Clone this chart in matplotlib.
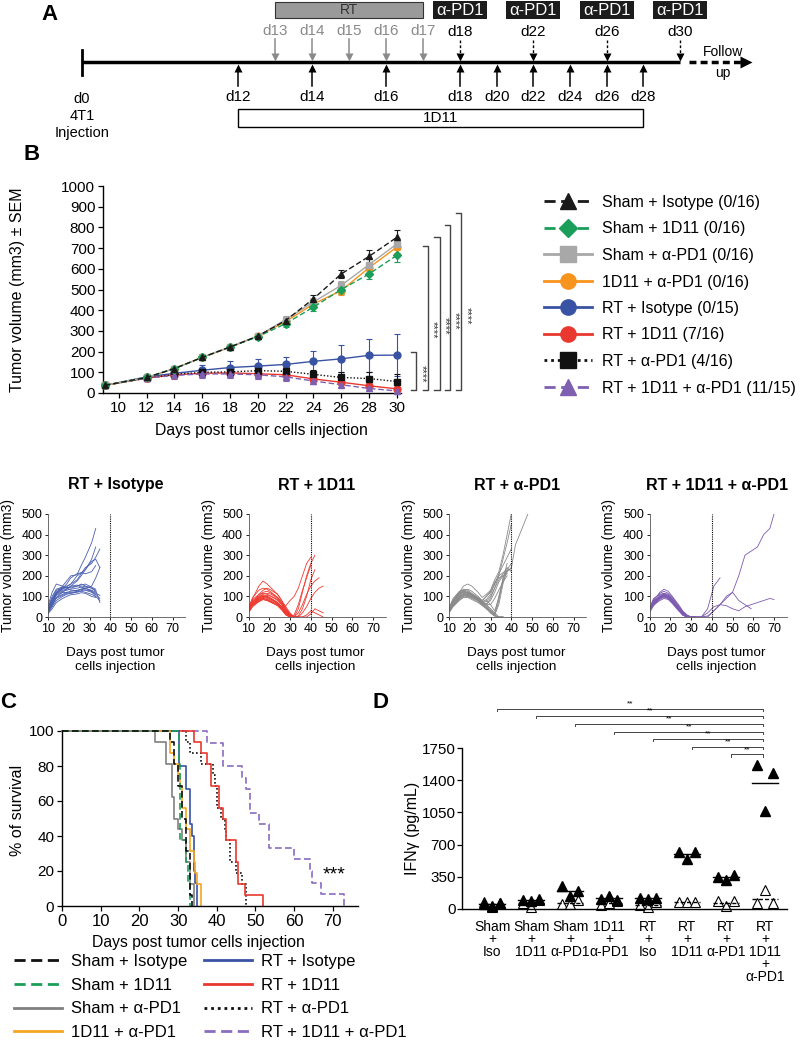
import numpy as np
import matplotlib.pyplot as plt
from matplotlib.lines import Line2D
from matplotlib.patches import Rectangle

plt.rcParams['font.family'] = ['Liberation Sans', 'DejaVu Sans']
plt.rcParams['axes.linewidth'] = 1.0
plt.rcParams['xtick.major.width'] = 0.9
plt.rcParams['ytick.major.width'] = 0.9

W, H = 800, 1048


def rect(l, t, r, b):
    return [l / W, 1 - b / H, (r - l) / W, (b - t) / H]


def fxy(x, y):
    return x / W, 1 - y / H


# ---------------- data ----------------
# A: treatment schedule (days)
rt_days = [13, 14, 15, 16, 17]
pd1_days = [18, 22, 26, 30]
tgf_days = [12, 14, 16, 18, 20, 22, 24, 26, 28]

# B: mean tumour volume +- SEM
b_days = [9, 12, 14, 16, 18, 20, 22, 24, 26, 28, 30]
b_labels = ['Sham + Isotype (0/16)', 'Sham + 1D11 (0/16)', 'Sham + α-PD1 (0/16)',
            '1D11 + α-PD1 (0/16)', 'RT + Isotype (0/15)', 'RT + 1D11 (7/16)',
            'RT + α-PD1 (4/16)', 'RT + 1D11 + α-PD1 (11/15)']
vol_sham_iso = [37, 75, 118, 172, 222, 275, 350, 455, 575, 660, 752]
vol_sham_1d11 = [37, 75, 118, 172, 222, 272, 335, 415, 500, 575, 665]
vol_sham_pd1 = [37, 75, 118, 172, 222, 275, 355, 440, 520, 620, 720]
vol_1d11_pd1 = [37, 75, 118, 172, 222, 275, 345, 430, 495, 605, 705]
vol_rt_iso = [37, 78, 95, 110, 123, 130, 138, 153, 165, 182, 183]
vol_rt_1d11 = [37, 72, 88, 95, 97, 93, 88, 68, 52, 35, 20]
vol_rt_pd1 = [37, 72, 90, 100, 102, 108, 105, 90, 75, 70, 55]
vol_rt_1d11_pd1 = [37, 72, 85, 92, 92, 88, 78, 58, 40, 22, 10]
sem_sham_iso = [3, 8, 8, 8, 10, 12, 15, 20, 20, 30, 35]
sem_sham_1d11 = [3, 8, 8, 8, 10, 12, 15, 18, 20, 25, 30]
sem_sham_pd1 = [3, 8, 8, 8, 10, 12, 18, 20, 20, 25, 30]
sem_1d11_pd1 = [3, 8, 8, 8, 10, 12, 15, 18, 20, 25, 30]
sem_rt_iso = [3, 15, 15, 25, 30, 35, 35, 50, 65, 80, 100]
sem_rt_1d11 = [3, 10, 15, 20, 20, 20, 20, 15, 15, 12, 10]
sem_rt_pd1 = [3, 10, 15, 20, 20, 20, 20, 20, 25, 30, 35]
sem_rt_1d11_pd1 = [3, 10, 15, 20, 20, 20, 20, 15, 12, 10, 8]
b_sig_tops = [198, 710, 754, 812, 870]

# B lower row: individual mice
iso_days = [10, 12, 14, 17, 19, 21, 24, 26, 28, 31, 33, 35]
iso_vols = [
    [30, 70, 120, 150, 175, 200, 205, 250, 290, 360, 430],
    [25, 65, 110, 140, 160, 190, 210, 215, 230, 280, 340],
    [35, 80, 120, 140, 150, 160, 180, 210, 240, 260, 290, 330],
    [20, 55, 95, 120, 135, 150, 175, 200, 230, 270, 280, 240],
    [40, 90, 130, 140, 145, 140, 150, 160, 150, 140, 130, 70],
    [30, 75, 110, 125, 130, 135, 140, 145, 150, 140, 125],
    [25, 60, 95, 110, 120, 125, 130, 135, 130, 120, 110, 90],
    [45, 100, 135, 145, 140, 145, 150, 155, 160, 145, 135],
    [20, 50, 80, 100, 110, 115, 120, 125, 120, 110, 100],
    [30, 70, 105, 120, 118, 115, 125, 135, 140, 150, 190, 240],
    [55, 120, 160, 150, 140, 130, 128, 135, 140, 130, 120],
    [15, 40, 70, 90, 100, 108, 112, 118, 115, 100, 95],
    [35, 85, 120, 135, 145, 160, 200, 215, 210, 220, 250],
    [25, 60, 90, 105, 115, 120, 122, 128, 132, 125, 115, 105],
    [40, 80, 115, 130, 135, 150, 155, 145, 140, 125, 100, 80],
]
tgf_mice_days = [10, 12, 15, 17, 19, 21, 24, 26, 28, 30, 32, 34, 36, 38, 40, 42, 44, 46]
tgf_mice_vols = [
    [40, 90, 150, 175, 160, 140, 110, 80, 40, 10, 0, 0],
    [30, 70, 110, 130, 140, 130, 110, 80, 50, 20, 0, 0],
    [50, 80, 100, 120, 125, 115, 95, 70, 40, 15, 0, 0],
    [20, 60, 90, 100, 105, 100, 80, 60, 30, 10, 0, 0],
    [35, 70, 95, 110, 115, 110, 90, 65, 35, 5, 0, 0],
    [25, 55, 80, 95, 100, 90, 70, 50, 25, 0, 0, 0],
    [45, 85, 110, 115, 110, 100, 85, 60, 30, 10, 0, 0],
    [30, 65, 90, 100, 95, 85, 70, 45, 20, 5, 0, 40, 120, 200, 260, 300],
    [25, 60, 85, 95, 90, 80, 65, 40, 15, 0, 10, 60, 130, 190, 250],
    [40, 75, 100, 105, 100, 90, 70, 50, 25, 5, 0, 20, 60, 110, 150, 175, 190],
    [35, 70, 95, 100, 95, 85, 65, 40, 15, 0, 0, 0, 20, 50, 90, 120, 140, 150],
    [30, 60, 80, 90, 85, 75, 60, 50, 55, 80, 100, 140, 200, 260, 290],
    [20, 50, 75, 85, 80, 70, 55, 35, 10, 0, 0, 0, 0, 10, 30, 20, 10, 0],
    [45, 95, 130, 140, 135, 120, 95, 70, 40, 15, 0, 5, 40, 100, 180, 230],
    [30, 65, 85, 90, 85, 75, 55, 35, 10, 0, 0, 0],
    [25, 55, 75, 85, 80, 70, 60, 45, 20, 0, 0, 0, 0, 0, 15, 40, 30, 20],
]
pd1_mice_days = [10, 12, 15, 17, 19, 21, 24, 26, 28, 30, 32, 34, 36, 38, 40, 42, 44, 46, 48]
pd1_mice_vols = [
    [30, 75, 120, 150, 160, 150, 120, 95, 110, 130, 180, 220, 300, 400, 500],
    [35, 80, 115, 130, 135, 125, 100, 80, 100, 120, 160, 200, 215, 225, 235, 350, 400, 450, 500],
    [25, 60, 95, 110, 115, 105, 85, 70, 80, 60, 30, 90, 180, 260],
    [40, 85, 120, 135, 130, 115, 95, 75, 60, 90, 140, 180, 210, 240, 220],
    [20, 55, 90, 105, 110, 100, 85, 65, 50, 30, 10, 60, 160, 230],
    [30, 70, 105, 120, 120, 110, 90, 70, 55, 40, 20, 0, 0],
    [25, 60, 90, 100, 105, 95, 80, 60, 40, 20, 5, 0, 0],
    [35, 75, 110, 120, 115, 105, 90, 75, 85, 110, 160, 210, 250, 290, 330],
    [30, 65, 100, 110, 105, 95, 80, 60, 45, 30, 10, 0, 0],
    [45, 90, 125, 130, 125, 110, 90, 70, 65, 80, 120, 170, 200, 220, 240],
    [25, 55, 85, 95, 95, 85, 70, 55, 40, 25, 5, 0, 0],
    [30, 70, 100, 115, 110, 100, 85, 65, 60, 40, 15, 100, 180, 215],
    [35, 80, 110, 125, 120, 110, 95, 80, 100, 125, 170, 190, 200, 210],
    [20, 50, 80, 95, 100, 95, 85, 70, 60, 60, 90, 130, 170, 200],
    [40, 80, 115, 125, 120, 105, 85, 70, 75, 100, 140, 200, 280, 360, 450],
    [30, 65, 95, 105, 100, 90, 75, 60, 50, 20, 5, 80, 190, 230, 260],
]
triple_mice_days = [10, 12, 15, 17, 19, 21, 24, 26, 28, 30, 32, 35, 38, 41, 44, 47,
                    50, 53, 56, 59, 62, 65, 68, 70]
triple_mice_vols = [
    [30, 80, 120, 135, 125, 100, 60, 30, 10, 0, 0],
    [40, 85, 115, 125, 115, 95, 55, 25, 5, 0, 0],
    [25, 70, 105, 115, 110, 90, 50, 20, 5, 0, 0],
    [35, 75, 100, 110, 105, 85, 45, 20, 0, 0, 0],
    [20, 60, 95, 105, 100, 80, 40, 15, 0, 0, 0],
    [45, 90, 110, 115, 105, 85, 50, 25, 10, 0, 0],
    [30, 65, 90, 100, 95, 75, 40, 15, 0, 0, 0],
    [25, 55, 85, 95, 90, 70, 35, 10, 0, 0, 0],
    [40, 80, 100, 105, 95, 80, 45, 20, 5, 0, 0],
    [35, 70, 95, 100, 90, 70, 35, 10, 0, 0, 0],
    [30, 60, 80, 90, 85, 65, 30, 10, 0, 0, 0],
    [35, 75, 100, 110, 100, 80, 45, 20, 5, 0, 0, 0, 5, 30, 60, 90, 120, 200, 300, 320,
     340, 400, 430, 500],
    [30, 65, 95, 105, 95, 75, 40, 15, 0, 0, 0, 0, 40, 150, 190],
    [25, 60, 90, 100, 90, 70, 35, 10, 0, 0, 0, 0, 0, 30, 60, 100, 120, 80, 60, 40],
    [30, 70, 95, 105, 95, 75, 40, 15, 0, 0, 0, 0, 20, 50, 60, 55, 40, 30, 50, 60, 70,
     80, 90, 85],
]

# C: days of death per group
km_sham_iso = [28, 29, 29, 30, 30, 31, 31, 31, 32, 32, 32, 33, 33, 33, 33, 33.5]
km_sham_1d11 = [30.3, 30.3, 30.3, 30.5, 30.5, 30.5, 30.5, 30.5, 30.5, 30.5, 32, 32,
                32.5, 32.5, 33, 33]
km_sham_pd1 = [24, 27, 27, 28.5, 28.5, 28.5, 29, 29, 30, 31, 32, 32, 33, 33, 34, 34]
km_1d11_pd1 = [28, 28, 29, 30, 30.5, 31, 31, 32, 32, 33, 33, 34, 34.5, 35, 36, 36]
km_rt_iso = [30.3, 30.3, 30.3, 32, 32, 33, 33, 33, 33.5, 34, 34, 34, 34.5, 35, 35]
km_rt_1d11 = [34, 36, 37.5, 38.5, 38.5, 40.5, 40.5, 41.5, 42.5, 42.5, 45, 45, 45.5,
              45.5, 47.3, 52]
km_rt_pd1 = [32, 33, 36, 39, 39.5, 40, 40, 41, 42, 42.5, 43.5, 43.5, 45, 46.5, 47.5, 47.5]
km_rt_1d11_pd1 = [37.5, 41.5, 41.5, 46.5, 47.5, 48.5, 48.5, 51, 53.5, 53.5, 60, 64,
                  64.5, 67, 73]
c_labels = ['Sham + Isotype', 'Sham + 1D11', 'Sham + α-PD1', '1D11 + α-PD1',
            'RT + Isotype', 'RT + 1D11', 'RT + α-PD1', 'RT + 1D11 + α-PD1']

# D: IFNg (pg/mL)
d_groups = ['Sham\n+\nIso', 'Sham\n+\n1D11', 'Sham\n+\nα-PD1', '1D11\n+\nα-PD1',
            'RT\n+\nIso', 'RT\n+\n1D11', 'RT\n+\nα-PD1', 'RT\n+\n1D11\n+\nα-PD1']
ifn_filled = [[55, 35, 70], [100, 85, 110], [245, 145, 195], [105, 145, 100],
              [120, 110, 125], [620, 540, 620], [350, 315, 370], [1560, 1060, 1480]]
ifn_open = [[80, 20, 60], [70, 20, 95], [50, 50, 100], [40, 70, 90],
            [40, 20, 80], [80, 75, 80], [85, 35, 85], [60, 210, 60]]
d_sig_levels = [2178, 2102, 2015, 1929, 1853, 1766, 1680]

# styles
col = ['#1a1a1a', '#1b9e5a', '#a8a8a8', '#f7941d', '#3953a4', '#e8382f', '#111111', '#7f5fb0']
dash = (0, (4, 2))
dot = (0, (1, 1.4))
lstyle = [dash, dash, '-', '-', '-', '-', dot, dash]
mark = ['^', 'D', 's', 'o', 'o', 'o', 's', '^']

fig = plt.figure(figsize=(8, 10.48), dpi=100)

# ---------------- A ----------------
ax_a = fig.add_axes(rect(0, 0, 800, 140))
ax_a.set_xlim(0, 800)
ax_a.set_ylim(140, 0)
ax_a.axis('off')


def dx(d):
    return np.interp(d, [0, 12, 18, 30], [82, 238, 460, 680])


ax_a.plot([82, dx(30)], [62, 62], color='k', lw=2.5, solid_capstyle='butt')
ax_a.plot([82, 82], [50, 75], color='k', lw=2)
ax_a.add_patch(Rectangle((dx(13), 2), dx(17) - dx(13), 16, fc='#9a9a9a', ec='#333333', lw=0.8))
ax_a.text((dx(13) + dx(17)) / 2, 10.5, 'RT', ha='center', va='center', fontsize=10, color='#333333')
for d in rt_days:
    ax_a.text(dx(d), 31, f'd{d}', ha='center', va='center', fontsize=11, color='#8a8a8a')
    ax_a.plot([dx(d), dx(d)], [39, 56], color='#8a8a8a', lw=1.1)
    ax_a.plot(dx(d), 56.5, marker='v', ms=6, color='#8a8a8a', mec='none')
for d in pd1_days:
    ax_a.add_patch(Rectangle((dx(d) - 27, 1), 54, 18, fc='#1c1c1c', ec='none'))
    ax_a.text(dx(d), 10.5, 'α-PD1', ha='center', va='center', fontsize=12, color='white')
    ax_a.text(dx(d), 32, f'd{d}', ha='center', va='center', fontsize=11, color='k')
    ax_a.plot([dx(d), dx(d)], [40, 56], color='k', lw=1, ls=(0, (2, 1.5)))
    ax_a.plot(dx(d), 57, marker='v', ms=6, color='k', mec='none')
for d in tgf_days:
    ax_a.plot([dx(d), dx(d)], [86, 68], color='k', lw=1.1)
    ax_a.plot(dx(d), 67.5, marker='^', ms=6, color='k', mec='none')
    ax_a.text(dx(d), 97, f'd{d}', ha='center', va='center', fontsize=11)
ax_a.text(82, 116, 'd0\n4T1\nInjection', ha='center', va='center', fontsize=10.5, linespacing=1.3)
ax_a.add_patch(Rectangle((dx(12), 109), dx(28) - dx(12), 18, fc='white', ec='k', lw=1))
ax_a.text((dx(12) + dx(28)) / 2, 118, '1D11', ha='center', va='center', fontsize=11)
ax_a.plot([689, 742], [62, 62], color='k', lw=2.5, ls=(0, (2, 1.2)))
ax_a.plot(746, 62, marker='>', ms=9, color='k', mec='none')
ax_a.text(723, 52, 'Follow', ha='center', va='center', fontsize=10)
ax_a.text(723, 73, 'up', ha='center', va='center', fontsize=10)

# ---------------- B ----------------
ax_b = fig.add_axes(rect(103, 186, 401, 393))
b_means = [vol_sham_iso, vol_sham_1d11, vol_sham_pd1, vol_1d11_pd1,
           vol_rt_iso, vol_rt_1d11, vol_rt_pd1, vol_rt_1d11_pd1]
b_sems = [sem_sham_iso, sem_sham_1d11, sem_sham_pd1, sem_1d11_pd1,
          sem_rt_iso, sem_rt_1d11, sem_rt_pd1, sem_rt_1d11_pd1]
order = [4, 5, 6, 7, 3, 2, 1, 0]
for i in order:
    ax_b.errorbar(b_days, b_means[i], yerr=b_sems[i], color=col[i], ls=lstyle[i],
                  marker=mark[i], ms=5 if mark[i] != 'D' else 4, lw=1, elinewidth=0.8,
                  capsize=2.5, capthick=0.8, clip_on=False, zorder=3)
ax_b.set_xlim(8.86, 30.3)
ax_b.set_ylim(0, 1000)
ax_b.set_xticks(range(10, 31, 2))
ax_b.set_yticks(range(0, 1001, 100))
ax_b.tick_params(labelsize=11, length=3.5, pad=2)
for s in ['top', 'right']:
    ax_b.spines[s].set_visible(False)

# significance brackets
b_sig_x = [31.36, 32.21, 33.07, 33.79, 34.64]
for xb, top in zip(b_sig_x, b_sig_tops):
    ax_b.plot([xb - 0.36, xb, xb, xb - 0.36], [15, 15, top, top], color='#444444', lw=1,
              clip_on=False)
    ax_b.text(xb + 0.4, (top + 15) / 2 - 0.08 * top, '****', rotation=270, ha='center',
              va='center', fontsize=8, color='#333333', clip_on=False)

fig.text(*fxy(18, 290), 'Tumor volume (mm3) ± SEM', rotation=90, ha='center', va='center',
         fontsize=11.5)
fig.text(*fxy(261, 431), 'Days post tumor cells injection', ha='center', va='center',
         fontsize=11.3)

b_handles = [Line2D([], [], color=col[i], ls=lstyle[i], marker=mark[i], lw=2,
                    ms=11 if mark[i] != 'D' else 9) for i in range(8)]
fig.legend(b_handles, b_labels, loc='upper left', bbox_to_anchor=fxy(544, 195), frameon=False,
           fontsize=11.5, handlelength=3.0, handletextpad=0.6, labelspacing=0.72,
           borderaxespad=0, borderpad=0)

# ---------------- B lower row ----------------
small = [('RT + Isotype', iso_days, iso_vols, '#4a5fb0'),
         ('RT + 1D11', tgf_mice_days, tgf_mice_vols, '#ee3a30'),
         ('RT + α-PD1', pd1_mice_days, pd1_mice_vols, '#8a8a8a'),
         ('RT + 1D11 + α-PD1', triple_mice_days, triple_mice_vols, '#7d5bb0')]
for k, (title, days, vols, c) in enumerate(small):
    left = 48 + 200.5 * k
    ax = fig.add_axes(rect(left, 514, left + 137, 617))
    for v in vols:
        ax.plot(days[:len(v)], v, color=c, lw=0.6)
    ax.axvline(40, color='k', lw=0.8, ls=(0, (1, 1)))
    ax.set_xlim(10, 76)
    ax.set_ylim(0, 500)
    ax.set_xticks(range(10, 71, 10))
    ax.set_yticks(range(0, 501, 100))
    ax.tick_params(labelsize=9, length=2.5, pad=1.5, width=0.6)
    for s in ['top', 'right']:
        ax.spines[s].set_visible(False)
    for s in ['left', 'bottom']:
        ax.spines[s].set_linewidth(0.6)
        ax.spines[s].set_color('#555555')
    fig.text(*fxy(left + 68, 485), title, ha='center', va='center', fontsize=11.5,
             fontweight='bold')
    fig.text(*fxy(left - 40, 565), 'Tumor volume (mm3)', rotation=90, ha='center',
             va='center', fontsize=10)
    fig.text(*fxy(left + 67, 660), 'Days post tumor\ncells injection', ha='center',
             va='center', fontsize=9.7, linespacing=1.2)

# ---------------- C ----------------
ax_c = fig.add_axes(rect(62, 731, 358, 906))
km_all = [km_sham_iso, km_sham_1d11, km_sham_pd1, km_1d11_pd1,
          km_rt_iso, km_rt_1d11, km_rt_pd1, km_rt_1d11_pd1]
c_col = ['#111111', '#1b9e5a', '#808080', '#f5a623', '#3953a4', '#e8382f', '#111111', '#8a6cc0']
for i in [7, 6, 5, 4, 3, 2, 1, 0]:
    t = np.sort(km_all[i])
    n = len(t)
    xs = np.concatenate([[0], t])
    ys = 100 * np.concatenate([[n], n - np.arange(1, n + 1)]) / n
    ax_c.step(xs, ys, where='post', color=c_col[i], ls=lstyle[i], lw=1.2, clip_on=False)
ax_c.set_xlim(0, 76.5)
ax_c.set_ylim(0, 100)
ax_c.set_xticks(range(0, 71, 10))
ax_c.set_yticks(range(0, 101, 20))
ax_c.tick_params(axis='y', labelsize=11, length=3.5, pad=2)
ax_c.tick_params(axis='x', labelsize=12, length=3.5, pad=2)
for s in ['top', 'right']:
    ax_c.spines[s].set_visible(False)
ax_c.text(70.3, 17.7, '***', ha='center', va='center', fontsize=14)
fig.text(*fxy(18, 810), '% of survival', rotation=90, ha='center', va='center', fontsize=11.5)
fig.text(*fxy(198, 943), 'Days post tumor cells injection', ha='center', va='center',
         fontsize=11.3)
c_handles = [Line2D([], [], color=c_col[i], ls=lstyle[i], lw=2) for i in range(8)]
leg1 = fig.legend(c_handles[:4], c_labels[:4], loc='upper left', bbox_to_anchor=fxy(14, 954),
                  frameon=False, fontsize=12, handlelength=2.9, handletextpad=0.5,
                  labelspacing=0.52, borderaxespad=0, borderpad=0)
leg2 = fig.legend(c_handles[4:], c_labels[4:], loc='upper left', bbox_to_anchor=fxy(204, 954),
                  frameon=False, fontsize=12, handlelength=2.9, handletextpad=0.5,
                  labelspacing=0.52, borderaxespad=0, borderpad=0)

# ---------------- D ----------------
ax_d = fig.add_axes(rect(462, 748, 787, 909))
jitter = np.array([-0.2, 0.0, 0.2])
for i in range(len(d_groups)):
    ax_d.plot(i + jitter, ifn_open[i], ls='none', marker='^', ms=7, mfc='white', mec='k',
              mew=0.8, clip_on=False)
    ax_d.plot(i + jitter, ifn_filled[i], ls='none', marker='^', ms=7, color='k',
              clip_on=False)
    ax_d.plot([i - 0.33, i + 0.33], [np.mean(ifn_filled[i])] * 2, color='k', lw=1)
    ax_d.plot([i - 0.33, i + 0.33], [np.mean(ifn_open[i])] * 2, color='k', lw=1,
              ls=(0, (3, 1.5)))
for i, lev in enumerate(d_sig_levels):
    ax_d.plot([i + 0.13, i + 0.13, 6.95, 6.95], [lev - 30, lev, lev, lev - 30],
              color='#444444', lw=0.7, clip_on=False)
    ax_d.text((i + 0.13 + 6.95) / 2, lev + 8, '**', ha='center', va='bottom', fontsize=6,
              clip_on=False)
ax_d.set_xlim(-0.77, 7.56)
ax_d.set_ylim(0, 1750)
ax_d.set_yticks(range(0, 1751, 350))
ax_d.set_xticks(range(len(d_groups)))
ax_d.set_xticklabels(d_groups, fontsize=10, linespacing=0.85, va='top')
ax_d.tick_params(axis='x', length=0, pad=8)
ax_d.tick_params(axis='y', labelsize=11, length=3.5, pad=1)
for s in ['top', 'right']:
    ax_d.spines[s].set_visible(False)
fig.text(*fxy(412, 828), 'IFNγ (pg/mL)', rotation=90, ha='center', va='center', fontsize=11.5)

# panel letters
for letter, (x, y) in zip('ABCD', [(50, 14), (32, 155), (8, 702), (381, 702)]):
    fig.text(*fxy(x, y), letter, ha='center', va='center', fontsize=16, fontweight='bold')

fig.savefig('out.png', dpi=100)
